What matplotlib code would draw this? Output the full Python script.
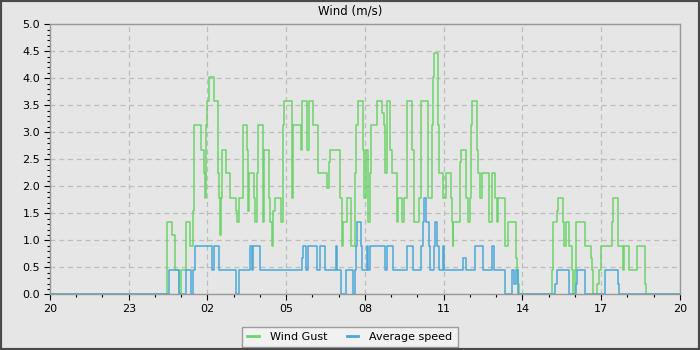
import matplotlib
matplotlib.use("Agg")
import matplotlib.pyplot as plt
from matplotlib.patches import Rectangle
from matplotlib.ticker import MultipleLocator

# hours after 20:00, value in m/s (step changes)
gust_t = [0.00, 4.44, 4.66, 4.75, 4.93, 4.98, 5.17, 5.33, 5.45, 5.47, 5.77, 5.88, 5.92,
          5.96, 5.99, 6.04, 6.25, 6.41, 6.44, 6.46, 6.50, 6.53, 6.55, 6.72, 6.84, 7.07,
          7.11, 7.20, 7.34, 7.52, 7.55, 7.59, 7.78, 7.82, 7.87, 7.91, 8.10, 8.13, 8.17,
          8.36, 8.38, 8.44, 8.51, 8.56, 8.81, 8.88, 8.90, 9.23, 9.27, 9.55, 9.59, 9.78,
          9.87, 10.01, 10.21, 10.57, 10.64, 10.67, 11.05, 11.11, 11.15, 11.30, 11.47,
          11.62, 11.64, 11.75, 11.91, 11.98, 12.03, 12.10, 12.19, 12.22, 12.45, 12.64,
          12.72, 12.76, 12.83, 12.95, 13.02, 13.21, 13.27, 13.40, 13.48, 13.61, 13.78,
          13.87, 14.07, 14.12, 14.41, 14.54, 14.57, 14.59, 14.63, 14.79, 14.82, 14.96,
          15.07, 15.26, 15.30, 15.34, 15.37, 15.62, 15.66, 15.84, 15.91, 16.00, 16.03,
          16.06, 16.25, 16.29, 16.38, 16.46, 16.74, 16.83, 16.94, 17.02, 17.08, 17.35,
          17.46, 17.75, 17.80, 17.84, 17.88, 19.11, 19.15, 19.30, 19.37, 19.53, 19.58,
          19.66, 19.78, 19.87, 19.94, 20.00, 20.04, 20.38, 20.60, 20.64, 20.67, 20.85,
          20.93, 20.98, 21.40, 21.46, 21.65, 21.82, 21.84, 21.88, 22.07, 22.35, 22.67,
          22.71, 24.00]
gust_v = [0, 1.34, 1.10, 0.45, 0, 0.45, 1.34, 0.89, 1.55, 3.13, 2.68, 2.24, 1.79,
          3.13, 3.58, 4.02, 3.58, 2.24, 1.79, 1.10, 1.34, 1.79, 2.68, 2.24, 1.79, 1.55,
          1.34, 1.79, 3.13, 2.68, 1.55, 2.24, 1.79, 1.34, 2.24, 3.13, 2.68, 1.34, 2.68,
          1.79, 1.34, 0.89, 1.55, 1.79, 1.34, 3.13, 3.58, 1.79, 3.13, 2.68, 3.58, 2.68,
          3.58, 3.13, 2.24, 1.97, 2.45, 2.68, 1.79, 0.89, 1.34, 1.79, 0.89,
          2.24, 3.13, 3.58, 2.68, 1.79, 2.68, 1.34, 2.24, 3.13, 3.58, 3.35,
          3.13, 2.24, 3.58, 2.68, 2.24, 1.34, 1.79, 1.34, 1.79, 3.58, 2.68,
          1.34, 1.79, 3.58, 1.79, 2.68, 3.13, 4.02, 4.47, 3.13, 2.24, 1.79,
          2.24, 1.79, 1.34, 0.89, 1.34, 2.45, 2.68, 1.79, 1.34, 1.79, 3.13,
          3.58, 2.68, 2.24, 1.79, 2.24, 1.34, 2.24, 1.79, 1.34, 1.79, 0.89,
          1.34, 0.67, 0.45, 0.20, 0, 0.45, 1.34, 1.55, 1.79, 1.34, 0.89,
          1.34, 0.89, 0.45, 0, 0.45, 1.34, 0.89, 0.67, 0.45, 0, 0.20,
          0.45, 0.89, 1.34, 1.79, 0.89, 0.67, 0.45, 0.89, 0.45, 0.89, 0.20,
          0, 0]

avg_t = [0.00, 4.55, 4.93, 5.18, 5.36, 5.46, 5.54, 6.16, 6.25, 6.43, 7.09, 7.19, 7.62,
         7.70, 7.72, 8.00, 9.59, 9.65, 9.75, 9.84, 10.18, 10.29, 10.48, 10.88, 10.92,
         11.08, 11.28, 11.56, 11.63, 11.66, 11.71, 11.84, 11.87, 12.06, 12.13, 12.19,
         12.76, 12.83, 13.05, 13.59, 13.82, 14.12, 14.20, 14.26, 14.31, 14.43, 14.48,
         14.63, 14.67, 14.76, 14.82, 14.96, 15.02, 15.75, 15.84, 16.19, 16.48, 16.85,
         16.93, 17.35, 17.59, 17.69, 17.75, 17.84, 19.24, 19.30, 19.78, 20.04, 20.09,
         20.38, 21.14, 21.65, 21.69, 24.00]
avg_v = [0, 0.45, 0, 0.45, 0, 0.45, 0.89, 0.45, 0.89, 0.45, 0, 0.45, 0.89,
         0.45, 0.89, 0.45, 0.67, 0.89, 0.45, 0.89, 0.45, 0.89, 0.45, 0.89, 0.45,
         0, 0.45, 0, 0.45, 0.89, 1.34, 0.89, 0.45, 0.89, 0.45, 0.89,
         0.45, 0.89, 0.45, 0.89, 0.45, 0.89, 1.34, 1.79, 1.34, 0.89, 0.45,
         0.89, 1.34, 0.89, 0.45, 0.89, 0.45, 0.67, 0.45, 0.89, 0.45, 0.89,
         0.45, 0, 0.45, 0.20, 0.45, 0, 0.20, 0.45, 0, 0.20, 0.45,
         0, 0.45, 0.20, 0, 0]

tick_pos = [0, 3, 6, 9, 12, 15, 18, 21, 24]
tick_labels = ['20', '23', '02', '05', '08', '11', '14', '17', '20']

bg = '#e6e6e6'
fig = plt.figure(figsize=(7, 3.5), dpi=100, facecolor=bg)
ax = fig.add_axes([0.0714, 0.1586, 0.90, 0.7724], facecolor=bg)

ax.step(gust_t, gust_v, where='post', color='#6cd46a', lw=1.1, label='Wind Gust')
ax.step(avg_t, avg_v, where='post', color='#4aa8d8', lw=1.1, label='Average speed')

ax.set_xlim(0, 24)
ax.set_ylim(0, 5.0)
ax.set_xticks(tick_pos)
ax.set_xticklabels(tick_labels)
ax.xaxis.set_minor_locator(MultipleLocator(1))
ax.yaxis.set_major_locator(MultipleLocator(0.5))
ax.yaxis.set_minor_locator(MultipleLocator(0.1))
ax.yaxis.set_major_formatter(matplotlib.ticker.FormatStrFormatter('%.1f'))
ax.tick_params(which='major', direction='out', length=4, width=0.8, labelsize=8, pad=3)
ax.tick_params(which='minor', direction='out', length=2, width=0.8)
ax.grid(True, which='major', linestyle=(0, (4, 3)), color='#bdbdbd', lw=0.9)
ax.set_axisbelow(True)
for s in ax.spines.values():
    s.set_color('#999999')
    s.set_linewidth(1.0)

fig.text(0.5, 0.968, 'Wind (m/s)', ha='center', va='center', fontsize=8.5)

leg = fig.legend(loc='lower center', bbox_to_anchor=(0.5, -0.008), ncol=2, fontsize=8,
                 frameon=True, fancybox=False, handlelength=1.0, handletextpad=1.0,
                 columnspacing=1.8, borderpad=0.45)
leg.get_frame().set_facecolor('#f4f4f4')
leg.get_frame().set_edgecolor('#888888')
leg.get_frame().set_linewidth(1.0)
for h in leg.legend_handles:
    h.set_linewidth(2.0)

fig.patches.append(Rectangle((0, 0), 1, 1, transform=fig.transFigure, fill=False,
                             ec='#4a4a4a', lw=3, zorder=10))

fig.savefig('out.png', dpi=100, facecolor=bg)
